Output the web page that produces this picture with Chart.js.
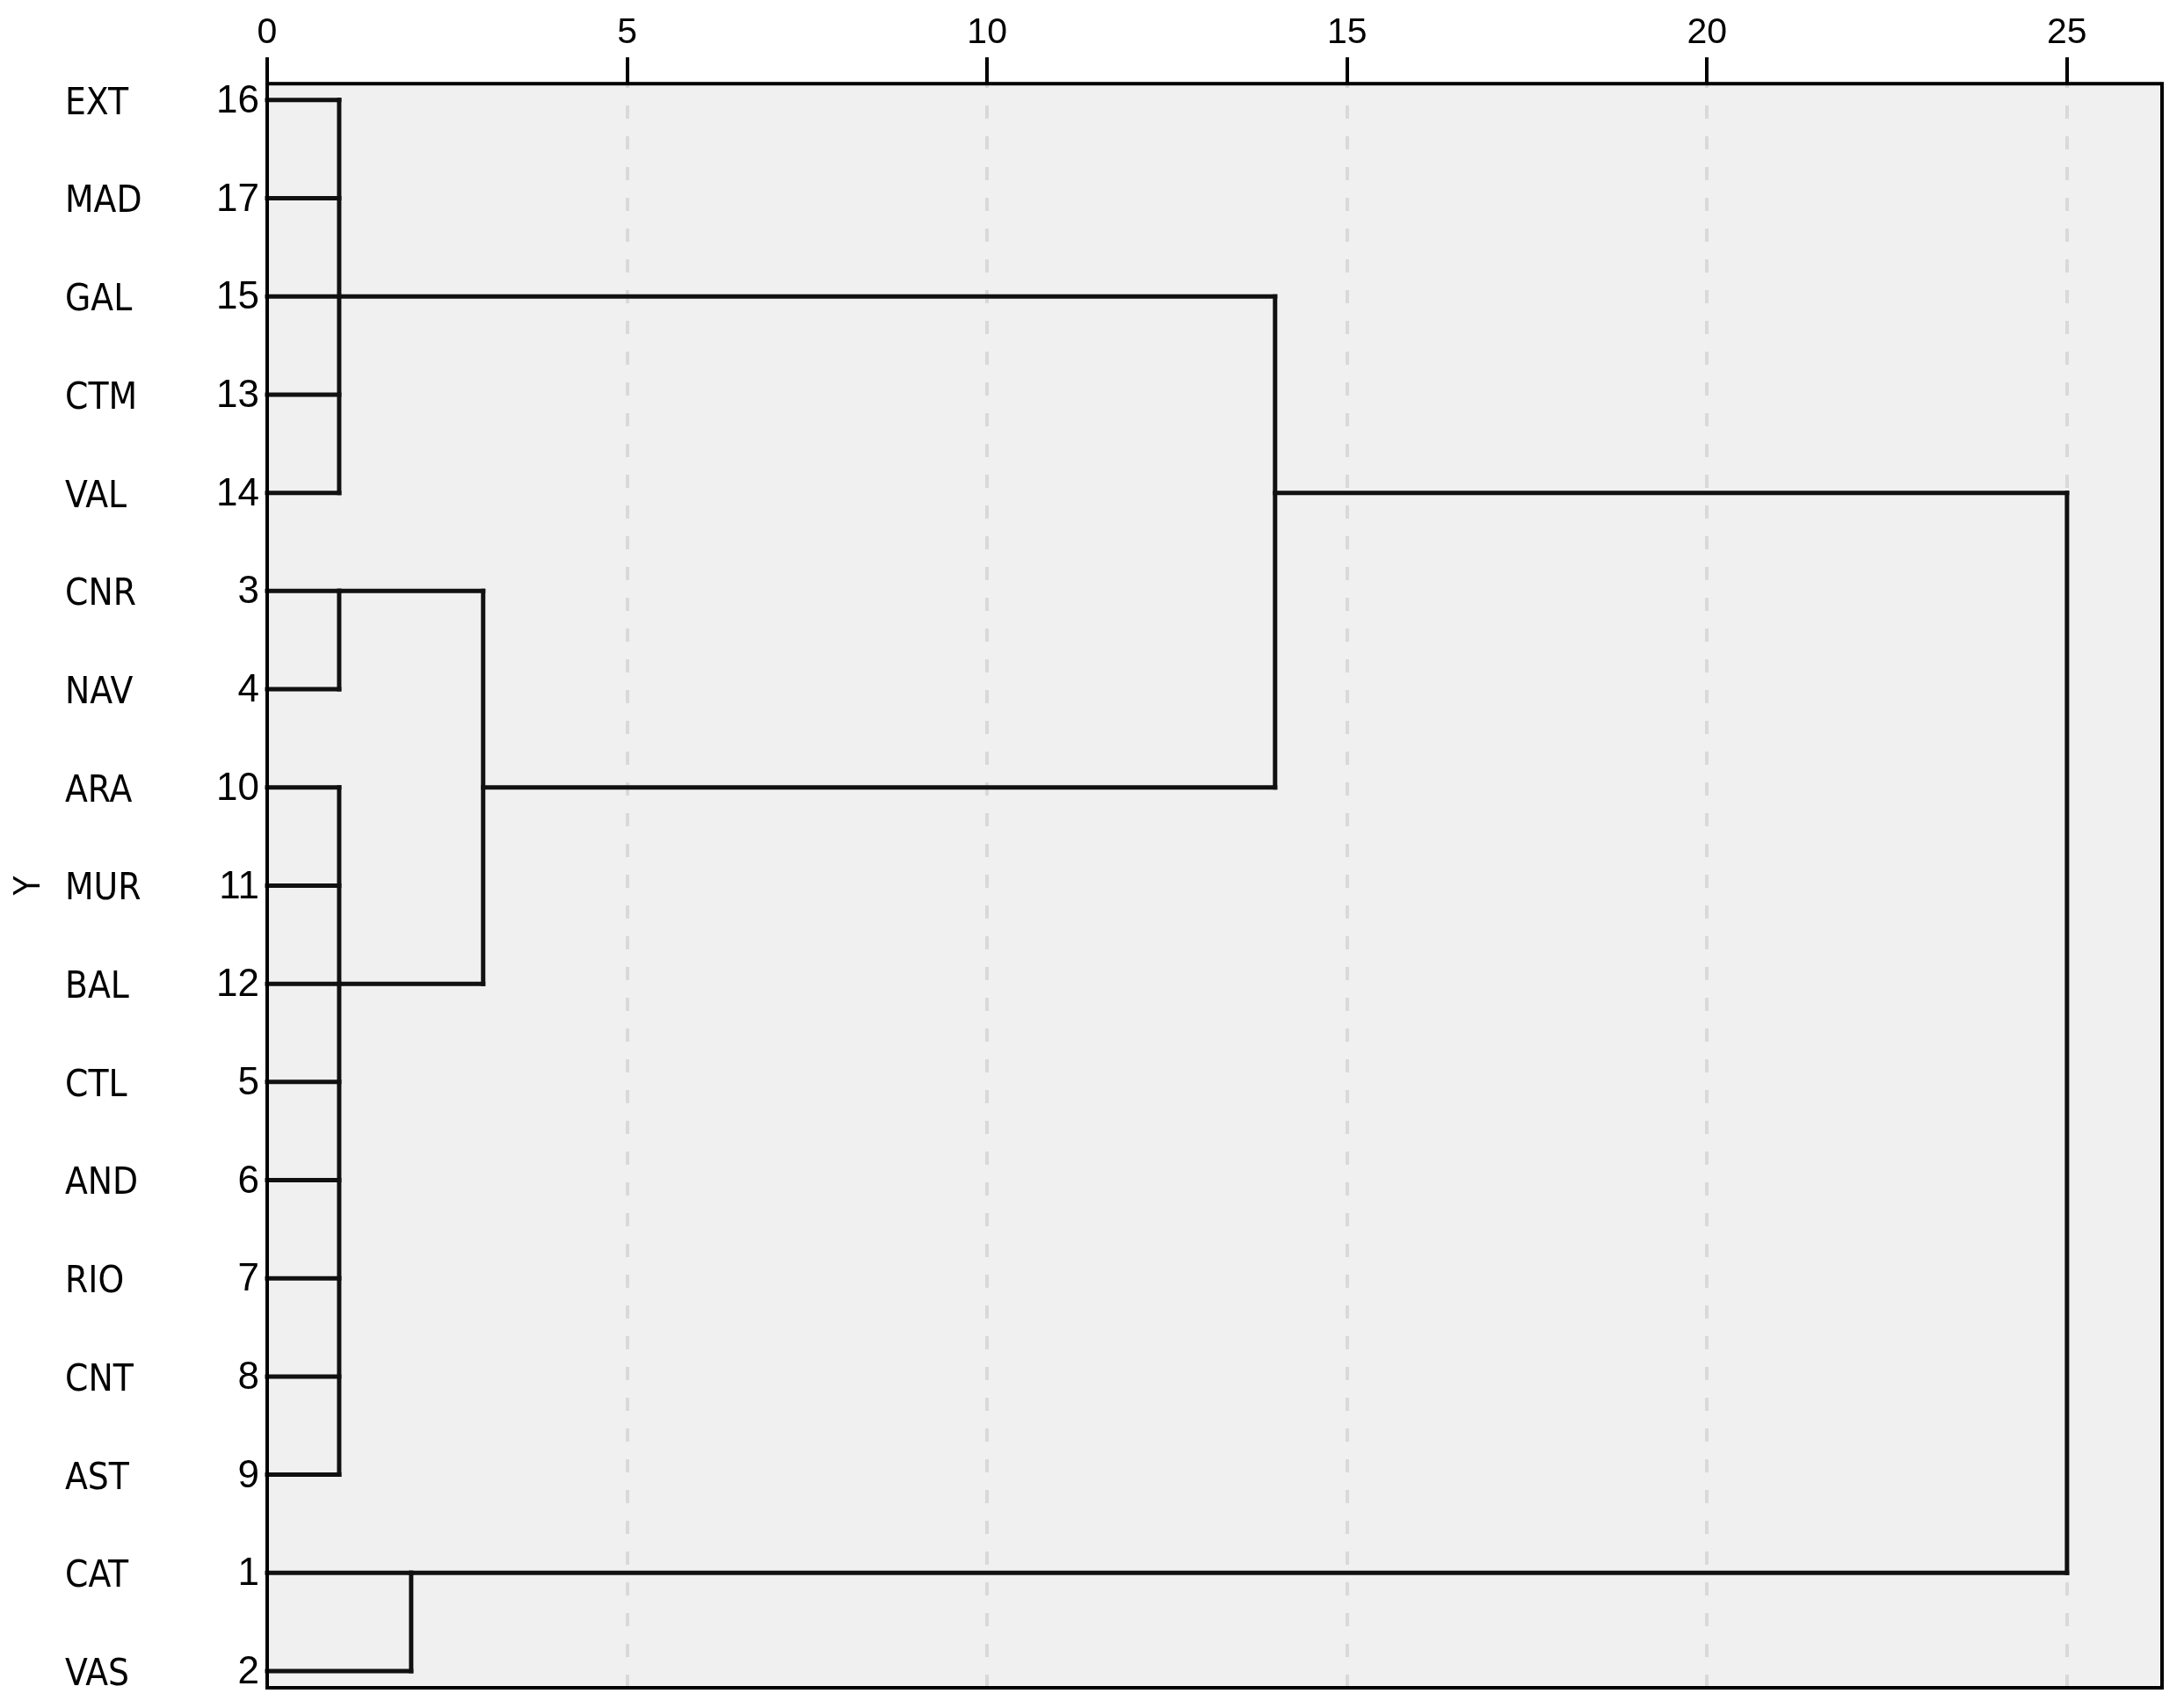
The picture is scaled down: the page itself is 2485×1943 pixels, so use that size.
<!DOCTYPE html>
<html>
<head>
<meta charset="utf-8">
<script src="https://cdn.jsdelivr.net/npm/chart.js@4.4.1/dist/chart.umd.min.js"></script>
<style>
  html, body { margin: 0; padding: 0; background: #ffffff; }
  canvas { display: block; }
</style>
</head>
<body>
<canvas id="c" width="2485" height="1943"></canvas>
<script>
// ---- data ----
const leafNames   = ["EXT","MAD","GAL","CTM","VAL","CNR","NAV","ARA","MUR","BAL","CTL","AND","RIO","CNT","AST","CAT","VAS"];
const caseNumbers = ["16","17","15","13","14","3","4","10","11","12","5","6","7","8","9","1","2"];
const xTickValues = [0, 5, 10, 15, 20, 25];
// merges (node ids: leaves 0..16, merge k = 17 + k)
const mergeHeights  = [1, 1, 1, 2, 3, 14, 25];
const mergeExitRows = [2, 5, 9, 15, 7, 4, null];
const mergeMembers  = [
  [0, 1, 2, 3, 4],
  [5, 6],
  [7, 8, 9, 10, 11, 12, 13, 14],
  [15, 16],
  [18, 19],
  [17, 21],
  [22, 20]
];
const axisTitle = "Y";

// ---- build segments ----
const nLeaves = leafNames.length;
function nodeHeight(id) { return id < nLeaves ? 0 : mergeHeights[id - nLeaves]; }
function nodeRow(id) { return id < nLeaves ? id : mergeExitRows[id - nLeaves]; }

const segments = [];
mergeMembers.forEach((members, k) => {
  const h = mergeHeights[k];
  const rows = members.map(nodeRow);
  members.forEach(m => {
    segments.push([{x: nodeHeight(m), y: nodeRow(m)}, {x: h, y: nodeRow(m)}]);
  });
  segments.push([{x: h, y: Math.min(...rows)}, {x: h, y: Math.max(...rows)}]);
});

const datasets = segments.map(seg => ({
  data: seg,
  showLine: true,
  borderColor: '#111111',
  borderWidth: 5,
  borderCapStyle: 'square',
  pointRadius: 0,
  pointHoverRadius: 0,
  xAxisID: 'x',
  yAxisID: 'yNums',
  clip: 6
}));

const labelFont = "'DejaVu Sans Condensed', 'Liberation Sans Narrow', 'Liberation Sans', Arial, sans-serif";
const digitFont = "'Liberation Sans', Arial, sans-serif";
const yMin = -0.167, yMax = 16.17;
const rowTicks = leafNames.map((_, i) => ({value: i}));

function noPad(scale) {
  scale.paddingTop = 0; scale.paddingBottom = 0;
  scale.paddingLeft = 0; scale.paddingRight = 0;
}

const bgPlugin = {
  id: 'plotFrame',
  beforeDraw(chart) {
    const {ctx, chartArea: a} = chart;
    ctx.save();
    ctx.fillStyle = '#f0f0f0';
    ctx.fillRect(a.left, a.top, a.right - a.left, a.bottom - a.top);
    ctx.restore();
  },
  afterDatasetsDraw(chart) {
    const {ctx, chartArea: a} = chart;
    ctx.save();
    ctx.strokeStyle = '#000000';
    ctx.lineWidth = 4;
    ctx.strokeRect(a.left, a.top, a.right - a.left, a.bottom - a.top);
    ctx.restore();
  }
};

new Chart(document.getElementById('c'), {
  type: 'scatter',
  data: { datasets },
  plugins: [bgPlugin],
  options: {
    responsive: false,
    devicePixelRatio: 1,
    animation: false,
    layout: { padding: { top: 10, right: 25, bottom: 23, left: 0 } },
    plugins: { legend: { display: false }, tooltip: { enabled: false } },
    scales: {
      x: {
        type: 'linear',
        position: 'top',
        min: 0,
        max: 26.32,
        afterBuildTicks(scale) { scale.ticks = xTickValues.map(v => ({value: v})); },
        afterFit(scale) { noPad(scale); },
        ticks: {
          color: '#000000',
          font: { family: digitFont, size: 41 },
          padding: 3,
          maxRotation: 0,
          callback: v => String(v)
        },
        grid: {
          color: '#d9d9d9',
          lineWidth: 4,
          drawTicks: true,
          tickLength: 30,
          tickColor: '#000000',
          tickWidth: 4,
          tickBorderDash: []
        },
        border: { display: false, dash: [15, 20], dashOffset: 10 }
      },
      yNums: {
        type: 'linear',
        position: 'left',
        weight: 1,
        min: yMin,
        max: yMax,
        reverse: true,
        afterBuildTicks(scale) { scale.ticks = rowTicks.map(t => ({value: t.value})); },
        afterFit(scale) { scale.width = 60; noPad(scale); },
        ticks: {
          color: '#000000',
          font: { family: digitFont, size: 44 },
          padding: 9,
          labelOffset: 2,
          crossAlign: 'near',
          callback: v => caseNumbers[v]
        },
        grid: { display: false, drawTicks: false },
        border: { display: false }
      },
      yNames: {
        type: 'linear',
        position: 'left',
        weight: 2,
        min: yMin,
        max: yMax,
        reverse: true,
        afterBuildTicks(scale) { scale.ticks = rowTicks.map(t => ({value: t.value})); },
        afterFit(scale) { scale.width = 170; noPad(scale); },
        ticks: {
          color: '#000000',
          font: { family: labelFont, size: 42 },
          padding: 0,
          labelOffset: 5,
          crossAlign: 'far',
          callback: v => leafNames[v]
        },
        grid: { display: false, drawTicks: false },
        border: { display: false }
      },
      yTitle: {
        type: 'linear',
        position: 'left',
        weight: 3,
        min: yMin,
        max: yMax,
        reverse: true,
        afterFit(scale) { scale.width = 74; noPad(scale); },
        ticks: { display: false },
        grid: { display: false, drawTicks: false },
        border: { display: false },
        title: {
          display: true,
          text: axisTitle,
          color: '#000000',
          font: { family: labelFont, size: 40 },
          padding: { top: 11, bottom: 0 }
        }
      }
    }
  }
});
</script>
</body>
</html>
